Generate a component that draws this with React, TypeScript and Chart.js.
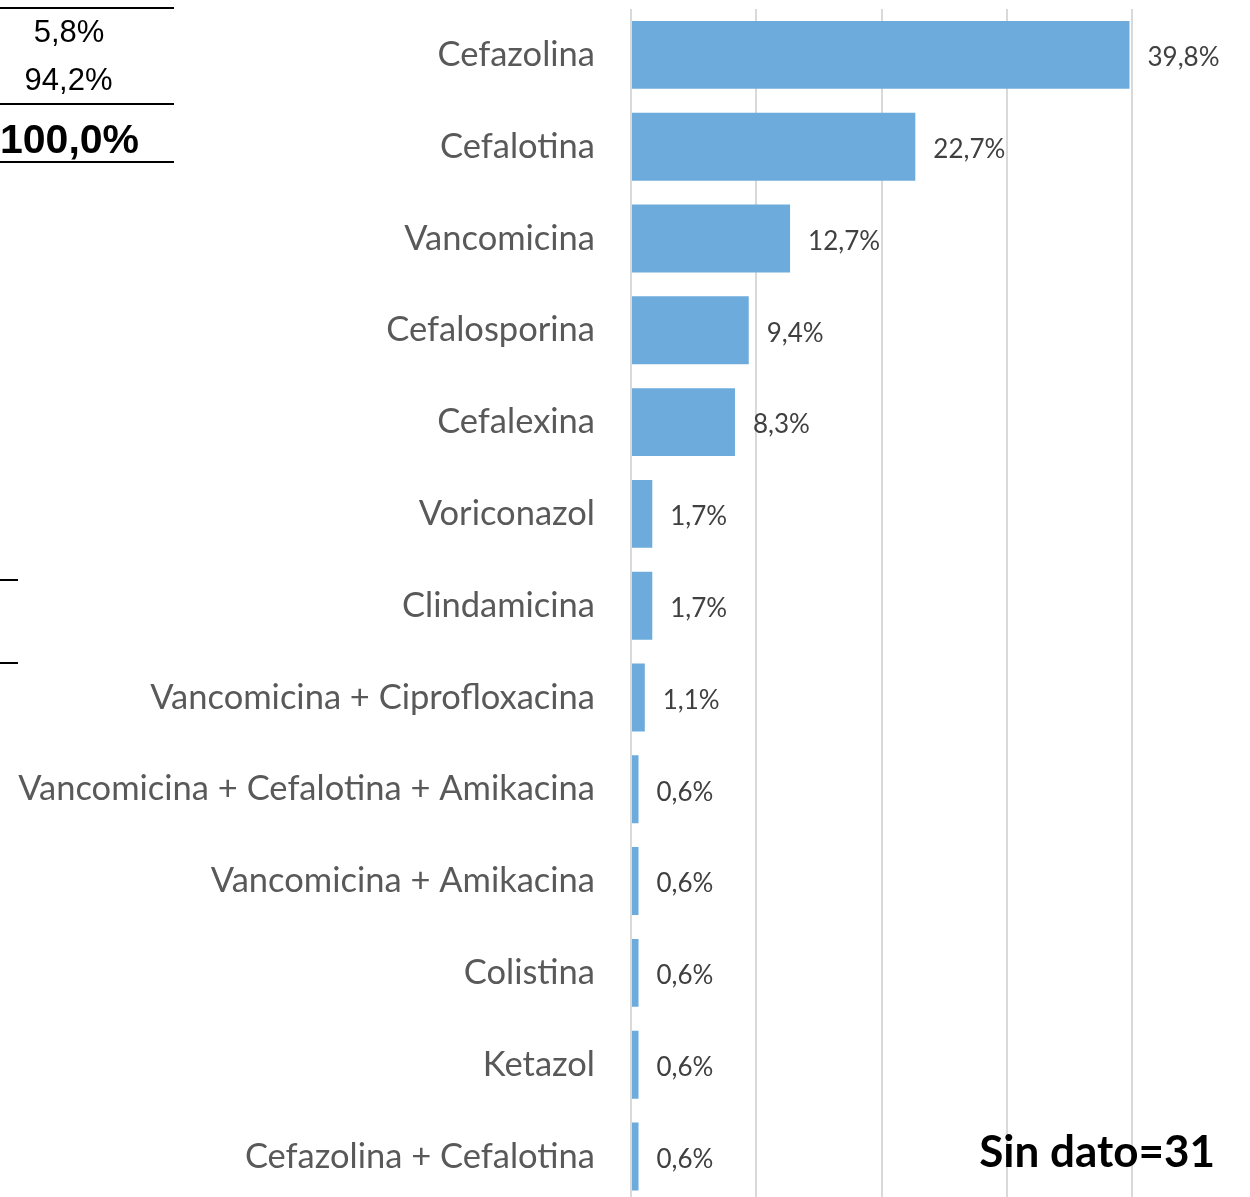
import React, { useEffect, useRef } from "react";
import { Chart, registerables } from "chart.js";

Chart.register(...registerables);

const categories: string[] = [
  "Cefazolina",
  "Cefalotina",
  "Vancomicina",
  "Cefalosporina",
  "Cefalexina",
  "Voriconazol",
  "Clindamicina",
  "Vancomicina + Ciprofloxacina",
  "Vancomicina + Cefalotina + Amikacina",
  "Vancomicina + Amikacina",
  "Colistina",
  "Ketazol",
  "Cefazolina + Cefalotina",
];

const percentages: number[] = [39.8, 22.7, 12.7, 9.4, 8.3, 1.7, 1.7, 1.1, 0.6, 0.6, 0.6, 0.6, 0.6];

const tableValues: string[] = ["5,8%", "94,2%"];
const tableTotal = "100,0%";
const noteText = "Sin dato=31";

const xTicks = { min: 0, max: 40, step: 10 };

const fmt = (v: number) => v.toFixed(1).replace(".", ",") + "%";

const LABEL_FONT = "Lato, 'Open Sans', sans-serif";

export default function App() {
  const canvasRef = useRef<HTMLCanvasElement | null>(null);

  useEffect(() => {
    if (!canvasRef.current) return;
    const valueLabels = {
      id: "valueLabels",
      afterDatasetsDraw(chart: any) {
        const ctx = chart.ctx;
        const meta = chart.getDatasetMeta(0);
        ctx.save();
        ctx.font = `26px ${LABEL_FONT}`;
        ctx.fillStyle = "#404040";
        ctx.textAlign = "left";
        ctx.textBaseline = "middle";
        meta.data.forEach((bar: any, i: number) => {
          ctx.fillText(fmt(percentages[i]), bar.x + 18, bar.y + 3);
        });
        ctx.restore();
      },
    };
    const chart = new Chart(canvasRef.current, {
      type: "bar",
      data: {
        labels: categories,
        datasets: [
          {
            data: percentages,
            backgroundColor: "#6cabdc",
            borderWidth: 0,
            barPercentage: 0.74,
            categoryPercentage: 1,
          },
        ],
      },
      options: {
        indexAxis: "y",
        animation: false,
        responsive: false,
        maintainAspectRatio: false,
        layout: { padding: { top: 9, right: 118, bottom: 0, left: 0 } },
        plugins: { legend: { display: false }, tooltip: { enabled: false } },
        scales: {
          x: {
            min: xTicks.min,
            max: xTicks.max,
            ticks: { stepSize: xTicks.step, display: false },
            grid: { color: "#d9d9d9", lineWidth: 2, drawTicks: false },
            border: { display: false },
            afterFit(scale: any) {
              scale.height = 0;
            },
          },
          y: {
            ticks: {
              color: "#595959",
              font: { size: 34.5, family: LABEL_FONT, lineHeight: 0.5 },
              padding: 0,
            },
            grid: {
              display: true,
              drawOnChartArea: false,
              drawTicks: true,
              tickLength: 36,
              color: "rgba(0,0,0,0)",
            },
            border: { display: false },
            afterFit(scale: any) {
              scale.width = 631;
            },
          },
        },
      },
      plugins: [valueLabels],
    });
    return () => chart.destroy();
  }, []);

  const line = (top: number, width: number) => (
    <div
      style={{
        position: "absolute",
        left: 0,
        top,
        width,
        height: 1.5,
        background: "#000",
      }}
    />
  );

  return (
    <div
      style={{
        position: "absolute",
        left: 0,
        top: 0,
        width: 1250,
        height: 1197,
        overflow: "hidden",
        background: "#fff",
      }}
    >
      <canvas
        ref={canvasRef}
        width={1250}
        height={1211}
        style={{ position: "absolute", left: 0, top: 0, width: 1250, height: 1211 }}
      />
      {line(7, 174)}
      {line(103, 174)}
      {line(161, 174)}
      {line(579, 18)}
      {line(662, 18)}
      <div
        style={{
          position: "absolute",
          left: 0,
          top: 14,
          width: 138,
          textAlign: "center",
          fontFamily: "'Liberation Sans', Arial, sans-serif",
          fontSize: 31,
          lineHeight: "36px",
          color: "#000",
        }}
      >
        {tableValues[0]}
      </div>
      <div
        style={{
          position: "absolute",
          left: 0,
          top: 62,
          width: 137,
          textAlign: "center",
          fontFamily: "'Liberation Sans', Arial, sans-serif",
          fontSize: 31,
          lineHeight: "36px",
          color: "#000",
        }}
      >
        {tableValues[1]}
      </div>
      <div
        style={{
          position: "absolute",
          left: 0,
          top: 116,
          fontFamily: "'Liberation Sans', Arial, sans-serif",
          fontSize: 41,
          fontWeight: "bold",
          lineHeight: "46px",
          color: "#000",
        }}
      >
        {tableTotal}
      </div>
      <div
        style={{
          position: "absolute",
          right: 35,
          top: 1126,
          fontFamily: LABEL_FONT,
          fontSize: 44,
          fontWeight: "bold",
          lineHeight: "48px",
          color: "#000",
        }}
      >
        {noteText}
      </div>
    </div>
  );
}
